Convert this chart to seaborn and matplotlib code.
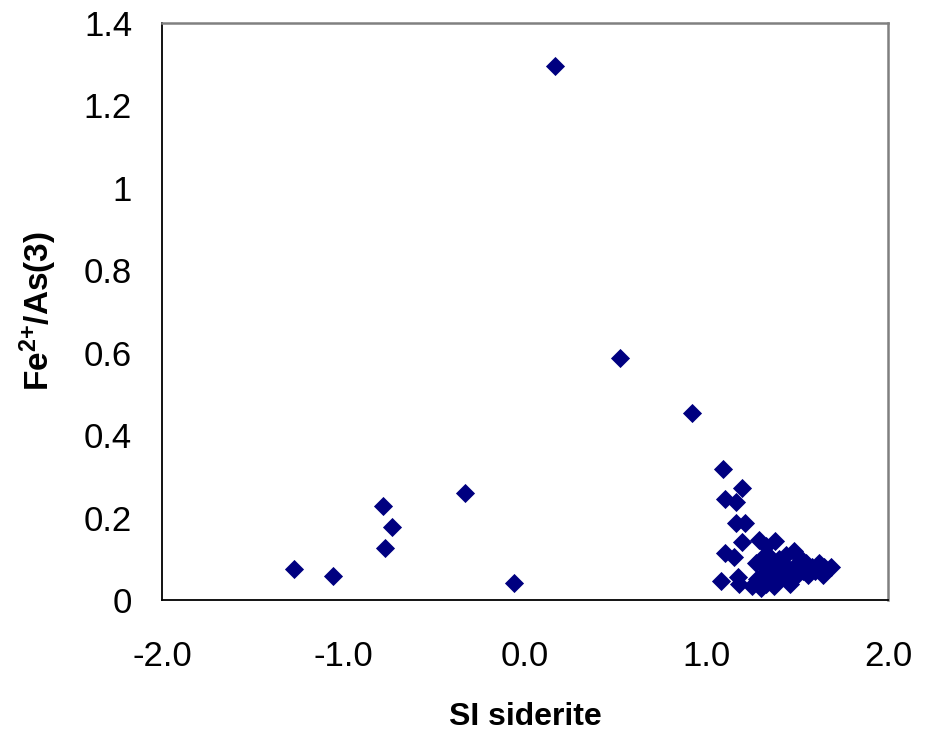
import matplotlib
matplotlib.use("Agg")
import matplotlib.pyplot as plt
import seaborn as sns
import pandas as pd

# Saturation index of siderite vs. Fe2+/As(III) ratio
si_siderite = [
    -1.27, -1.06, -0.78, -0.73, -0.77, -0.33, -0.06, 0.166, 0.525, 0.92,
    1.09, 1.197, 1.10, 1.16, 1.165, 1.21, 1.197, 1.10, 1.15, 1.08, 1.175, 1.18,
    1.29, 1.33, 1.376, 1.30, 1.32, 1.28, 1.30, 1.33, 1.35, 1.36, 1.38, 1.40,
    1.42, 1.44, 1.45, 1.46, 1.48, 1.48, 1.50, 1.52, 1.53, 1.55, 1.56, 1.58,
    1.60, 1.62, 1.64, 1.65, 1.685, 1.25, 1.34, 1.40, 1.37, 1.43, 1.31, 1.27,
]
fe_as_ratio = [
    0.075, 0.058, 0.228, 0.177, 0.126, 0.260, 0.041, 1.296, 0.586, 0.453,
    0.317, 0.271, 0.245, 0.237, 0.187, 0.187, 0.141, 0.114, 0.104, 0.046, 0.055, 0.040,
    0.145, 0.130, 0.143, 0.100, 0.080, 0.050, 0.030, 0.040, 0.060, 0.090, 0.070, 0.050,
    0.090, 0.110, 0.070, 0.040, 0.120, 0.080, 0.060, 0.100, 0.070, 0.090, 0.060, 0.080,
    0.070, 0.090, 0.060, 0.080, 0.080, 0.035, 0.110, 0.100, 0.035, 0.055, 0.060, 0.090,
]

x_ticks = [-2.0, -1.0, 0.0, 1.0, 2.0]
x_tick_labels = ["-2.0", "-1.0", "0.0", "1.0", "2.0"]
y_ticks = [0, 0.2, 0.4, 0.6, 0.8, 1.0, 1.2, 1.4]
y_tick_labels = ["0", "0.2", "0.4", "0.6", "0.8", "1", "1.2", "1.4"]

df = pd.DataFrame({"si": si_siderite, "ratio": fe_as_ratio})

sns.set_style("white")
plt.rcParams["font.family"] = ["Liberation Sans", "DejaVu Sans"]
plt.rcParams["mathtext.fontset"] = "custom"
plt.rcParams["mathtext.rm"] = "Liberation Sans"
plt.rcParams["mathtext.bf"] = "Liberation Sans:bold"

fig = plt.figure(figsize=(9.32, 7.36), dpi=100)
ax = fig.add_axes([0.1738, 0.1848, 0.779, 0.784])

sns.scatterplot(data=df, x="si", y="ratio", ax=ax, marker="D", s=95,
                color="#000080", edgecolor="#000080", linewidth=0, legend=False)

ax.set_xlim(-2.0, 2.0)
ax.set_ylim(0, 1.4)
ax.set_xticks(x_ticks)
ax.set_xticklabels(x_tick_labels)
ax.set_yticks(y_ticks)
ax.set_yticklabels(y_tick_labels)

ax.tick_params(axis="both", which="major", direction="out", length=8.5,
               width=1.2, color="black", labelsize=25, labelcolor="black")
ax.tick_params(axis="x", pad=20)
ax.tick_params(axis="y", pad=13)

for side in ("left", "bottom"):
    ax.spines[side].set_color("black")
    ax.spines[side].set_linewidth(1.3)
for side in ("top", "right"):
    ax.spines[side].set_color("#808080")
    ax.spines[side].set_linewidth(1.8)

ax.set_xlabel("SI siderite", fontsize=23, fontweight="bold", labelpad=21,
              color="black")
ax.set_ylabel(r"$\mathbf{Fe^{2{+}}/As(3)}$", fontsize=24, labelpad=18,
              color="black")

fig.savefig("out.png", dpi=100)
